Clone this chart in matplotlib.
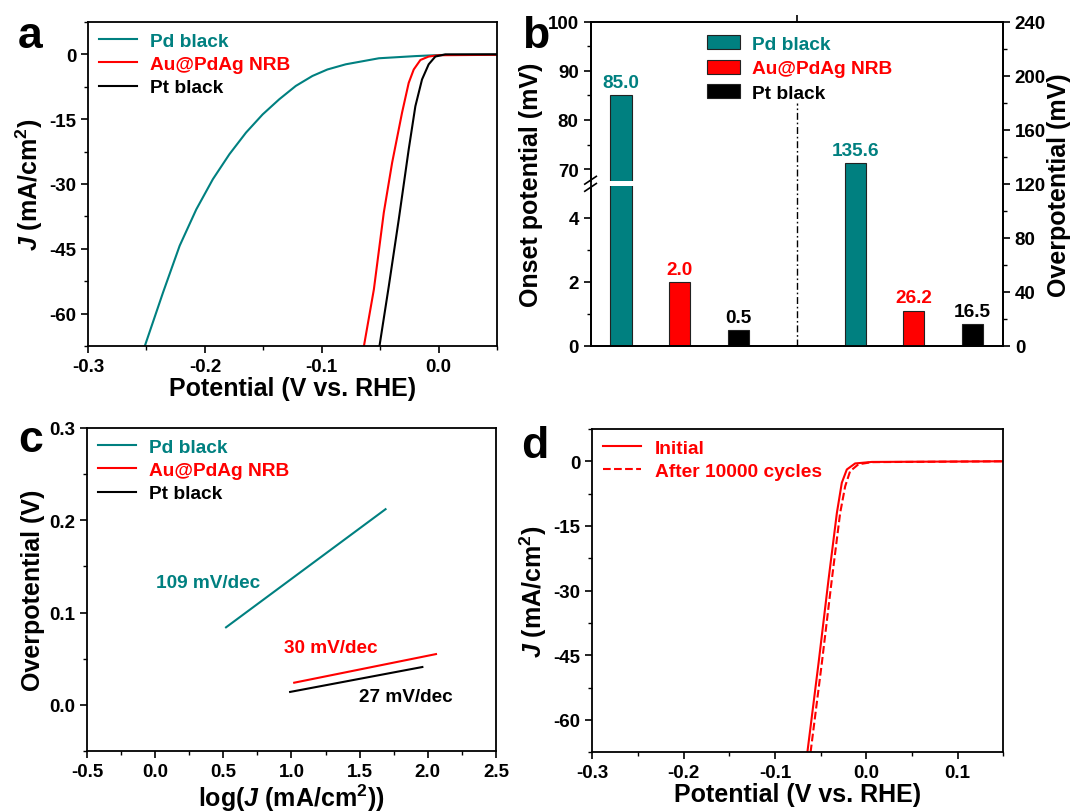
import matplotlib
matplotlib.use("Agg")
import matplotlib.pyplot as plt
import numpy as np
from matplotlib.patches import Patch
from matplotlib.lines import Line2D
from matplotlib.ticker import MultipleLocator

plt.rcParams['font.family'] = ['Liberation Sans', 'DejaVu Sans']
plt.rcParams['font.weight'] = 'bold'
plt.rcParams['axes.labelweight'] = 'bold'
plt.rcParams['axes.unicode_minus'] = False
plt.rcParams['mathtext.fontset'] = 'custom'
plt.rcParams['mathtext.rm'] = 'Liberation Sans:bold'
plt.rcParams['mathtext.it'] = 'Liberation Sans:bold:italic'
plt.rcParams['mathtext.bf'] = 'Liberation Sans:bold'
plt.rcParams['axes.linewidth'] = 1.3
for a in ['xtick', 'ytick']:
    plt.rcParams[a + '.direction'] = 'out'
    plt.rcParams[a + '.major.size'] = 5
    plt.rcParams[a + '.minor.size'] = 3
    plt.rcParams[a + '.major.width'] = 1.2
    plt.rcParams[a + '.minor.width'] = 1.0
    plt.rcParams[a + '.labelsize'] = 13.5

TEAL = '#008080'
RED = '#ff0000'
BLACK = '#000000'

names = ['Pd black', 'Au@PdAg NRB', 'Pt black']
colors = [TEAL, RED, BLACK]

# panel a: polarization curves
pd_v = [-0.2514, -0.2358, -0.2216, -0.2074, -0.1932, -0.179, -0.1648, -0.1506, -0.1364,
        -0.1222, -0.108, -0.0952, -0.0795, -0.0511, -0.0199, 0.0, 0.05]
pd_j = [-67.5, -55.1, -44.3, -35.9, -28.9, -23.1, -18.1, -13.9, -10.4,
        -7.3, -5.0, -3.5, -2.3, -0.9, -0.4, -0.15, 0.0]
au_v = [-0.0639, -0.0554, -0.0469, -0.0398, -0.0313, -0.0256, -0.0213, -0.0156, -0.0085, 0.0, 0.05]
au_j = [-67.5, -54.4, -36.6, -25.1, -13.5, -6.6, -3.5, -1.3, -0.5, -0.2, -0.1]
pt_v = [-0.0506, -0.0426, -0.0341, -0.0256, -0.0199, -0.0142, -0.0085, -0.0028, 0.0057, 0.05]
pt_j = [-67.5, -53.6, -38.2, -22.0, -12.0, -5.8, -2.3, -0.5, 0.0, 0.0]

# panel b: onset potential / overpotential
onset = [85.0, 2.0, 0.5]
overpot = [135.6, 26.2, 16.5]
onset_x = [1, 2, 3]
overpot_x = [5, 6, 7]
divider_top = 180

# panel c: Tafel lines
tafel_x = [[0.52, 1.69], [1.02, 2.06], [0.99, 1.96]]
tafel_y = [[0.084, 0.212], [0.024, 0.055], [0.014, 0.041]]
tafel_lab = ['109 mV/dec', '30 mV/dec', '27 mV/dec']
tafel_lab_xy = [(0.39, 0.133), (1.29, 0.062), (1.84, 0.0087)]

# panel d: stability
ini_v = [-0.0645, -0.0522, -0.0413, -0.0322, -0.0268, -0.0213, -0.0122, 0.006, 0.15]
ini_j = [-67.5, -46.7, -27.4, -12.0, -5.0, -1.9, -0.5, -0.15, 0.0]
aft_v = [-0.0610, -0.0486, -0.0377, -0.0286, -0.0231, -0.0177, -0.0086, 0.006, 0.15]
aft_j = [-67.5, -46.7, -27.4, -12.0, -5.8, -2.3, -0.7, -0.2, 0.0]

fig = plt.figure(figsize=(10.71, 8.12), dpi=100)

LAB = 18
LEG = 13.8
VAL = 13.7

def style(ax):
    ax.tick_params(which='both', top=False, right=False)

# ---- a
axa = fig.add_axes([0.0822, 0.5727, 0.3819, 0.3990])
axa.plot(pd_v, pd_j, color=TEAL, lw=1.5)
axa.plot(au_v, au_j, color=RED, lw=1.5)
axa.plot(pt_v, pt_j, color=BLACK, lw=1.5)
axa.set_xlim(-0.3, 0.05)
axa.set_ylim(-67.5, 7.5)
axa.set_xticks([-0.3, -0.2, -0.1, 0.0])
axa.xaxis.set_minor_locator(MultipleLocator(0.05))
axa.set_yticks([0, -15, -30, -45, -60])
axa.yaxis.set_minor_locator(MultipleLocator(7.5))
axa.set_xlabel('Potential (V vs. RHE)', fontsize=LAB, labelpad=1)
axa.set_ylabel('$J$ (mA/cm$^2$)', fontsize=LAB, labelpad=3)
style(axa)
lg = axa.legend([Line2D([], [], color=c, lw=1.5) for c in colors], names, loc='upper left',
                frameon=False, fontsize=LEG, handlelength=2.0, handletextpad=0.7,
                labelspacing=0.3, borderaxespad=0.15)
for t, c in zip(lg.get_texts(), colors):
    t.set_color(c)
fig.text(0.017, 0.955, 'a', fontsize=32, fontweight='bold', va='center')

# ---- b
def fwd(y):
    return np.interp(y, [-1000, 0, 5, 67, 100, 1000], [-98.8, 0, 0.494, 0.5, 1.0, 14.64])

def inv(y):
    return np.interp(y, [-98.8, 0, 0.494, 0.5, 1.0, 14.64], [-1000, 0, 5, 67, 100, 1000])

axb = fig.add_axes([0.5514, 0.5727, 0.3851, 0.3994])
axb.set_yscale('function', functions=(fwd, inv))
axb.set_ylim(0, 100)
axb.set_xlim(0.48, 7.52)
bw = 0.36
axb.bar(onset_x, onset, width=bw, color=colors, edgecolor='#222222', lw=0.8, zorder=2)
# break gap in the tall bar
axb.bar(onset_x[0], 67.5 - 4.98, bottom=4.98, width=bw * 1.2, color='white', lw=0, zorder=3)
for x, v, c in zip(onset_x, onset, colors):
    axb.annotate('%.1f' % v, (x, v), xytext=(0, 3), textcoords='offset points',
                 ha='center', va='bottom', color=c, fontsize=VAL, fontweight='bold')
axb.set_yticks([0, 2, 4, 70, 80, 90, 100])
axb.set_yticks([1, 3, 75, 85, 95], minor=True)
axb.set_ylabel('Onset potential (mV)', fontsize=LAB, labelpad=3)
xdiv = (onset_x[-1] + overpot_x[0]) / 2
axb.set_xticks([xdiv])
axb.tick_params(axis='x', bottom=False, top=True, labelbottom=False, labeltop=False)
axb.tick_params(axis='y', which='both', right=False)
# broken spine marks
axb.add_patch(plt.Rectangle((-0.02, 0.493), 0.04, 0.014, transform=axb.transAxes,
                            color='white', clip_on=False, zorder=5))
for dy in (-0.011, 0.011):
    axb.plot([-0.014, 0.014], [0.5 + dy - 0.012, 0.5 + dy + 0.012], color='black',
             lw=1.2, transform=axb.transAxes, clip_on=False, zorder=6)

axb2 = axb.twinx()
axb2.set_ylim(0, 240)
axb2.set_autoscaley_on(False)
axb2.bar(overpot_x, overpot, width=bw, color=colors, edgecolor='#222222', lw=0.8, zorder=2)
for x, v, c in zip(overpot_x, overpot, colors):
    axb2.annotate('%.1f' % v, (x, v), xytext=(0, 3), textcoords='offset points',
                  ha='center', va='bottom', color=c, fontsize=VAL, fontweight='bold')
axb2.axvline(xdiv, ymin=0, ymax=divider_top / 240, color='black', lw=1.0,
             dashes=[5, 2, 1.2, 2])
axb2.set_yticks(range(0, 241, 40))
axb2.yaxis.set_minor_locator(MultipleLocator(20))
axb2.set_ylabel('Overpotential (mV)', fontsize=LAB, labelpad=1)
lg = axb2.legend([Patch(facecolor=c, edgecolor='#222222', lw=0.8) for c in colors], names,
                 loc='upper left', bbox_to_anchor=(0.25, 1.0), frameon=False, fontsize=LEG,
                 handlelength=1.7, handleheight=0.75, handletextpad=0.65, labelspacing=0.36,
                 borderaxespad=0.3)
for t, c in zip(lg.get_texts(), colors):
    t.set_color(c)
fig.text(0.487, 0.955, 'b', fontsize=32, fontweight='bold', va='center')

# ---- c
axc = fig.add_axes([0.0812, 0.0739, 0.3819, 0.3978])
for xs, ys, c in zip(tafel_x, tafel_y, colors):
    axc.plot(xs, ys, color=c, lw=1.5)
for (tx, ty), s, c in zip(tafel_lab_xy, tafel_lab, colors):
    axc.text(tx, ty, s, color=c, fontsize=VAL, fontweight='bold', ha='center', va='center')
axc.set_xlim(-0.5, 2.5)
axc.set_ylim(-0.05, 0.3)
axc.set_xticks(np.arange(-0.5, 2.51, 0.5))
axc.xaxis.set_minor_locator(MultipleLocator(0.25))
axc.set_yticks([0.0, 0.1, 0.2, 0.3])
axc.yaxis.set_minor_locator(MultipleLocator(0.05))
axc.set_xlabel('log($J$ (mA/cm$^2$))', fontsize=LAB, labelpad=1)
axc.set_ylabel('Overpotential (V)', fontsize=LAB, labelpad=3)
style(axc)
lg = axc.legend([Line2D([], [], color=c, lw=1.5) for c in colors], names, loc='upper left',
                frameon=False, fontsize=LEG, handlelength=2.0, handletextpad=0.7,
                labelspacing=0.3, borderaxespad=0.15)
for t, c in zip(lg.get_texts(), colors):
    t.set_color(c)
fig.text(0.017, 0.457, 'c', fontsize=32, fontweight='bold', va='center')

# ---- d
axd = fig.add_axes([0.5531, 0.0723, 0.3836, 0.3982])
axd.plot(ini_v, ini_j, color=RED, lw=1.5, label='Initial')
axd.plot(aft_v, aft_j, color=RED, lw=1.5, ls='--', label='After 10000 cycles')
axd.set_xlim(-0.3, 0.15)
axd.set_ylim(-67.5, 7.5)
axd.set_xticks([-0.3, -0.2, -0.1, 0.0, 0.1])
axd.xaxis.set_minor_locator(MultipleLocator(0.05))
axd.set_yticks([0, -15, -30, -45, -60])
axd.yaxis.set_minor_locator(MultipleLocator(7.5))
axd.set_xlabel('Potential (V vs. RHE)', fontsize=LAB, labelpad=1)
axd.set_ylabel('$J$ (mA/cm$^2$)', fontsize=LAB, labelpad=3)
style(axd)
lg = axd.legend(loc='upper left', frameon=False, fontsize=LEG, handlelength=2.0,
                handletextpad=0.7, labelspacing=0.3, borderaxespad=0.15)
for t in lg.get_texts():
    t.set_color(RED)
fig.text(0.487, 0.45, 'd', fontsize=32, fontweight='bold', va='center')

fig.savefig('out.png', dpi=100)
